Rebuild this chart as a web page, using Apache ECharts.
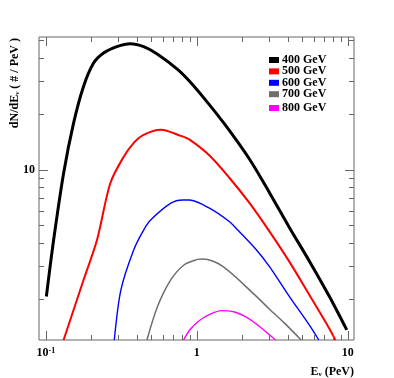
<!DOCTYPE html>
<html>
<head>
<meta charset="utf-8">
<script src="https://cdn.jsdelivr.net/npm/echarts@6/dist/echarts.min.js"></script>
<style>
  html, body { margin: 0; padding: 0; background: #fff; }
  #chart { width: 394px; height: 378px; }
</style>
</head>
<body>
<div id="chart"></div>
<script>
// [E (PeV), dN/dE]
const gev400 = [[0.1007, 2.06], [0.1125, 4.16], [0.131, 9.55], [0.1525, 17.8], [0.1775, 28.1], [0.207, 37.6], [0.241, 42.6], [0.295, 46.1], [0.362, 47.8], [0.444, 46.1], [0.549, 42.0], [0.745, 34.8], [0.895, 30], [1.18, 23], [1.56, 17.2], [2.23, 11.4], [3.03, 7.5], [4.11, 4.85], [5.57, 3.2], [7.56, 2.06], [9.85, 1.36]];
const gev500 = [[0.131, 1.2], [0.1775, 2.53], [0.218, 4.16], [0.267, 8.43], [0.327, 11.7], [0.381, 13.9], [0.444, 15.4], [0.578, 16.4], [0.784, 15.2], [0.895, 14.5], [1.213, 11.9], [1.647, 9.0], [2.23, 6.6], [2.98, 4.72], [4.11, 3.17], [5.57, 2.1], [7.56, 1.38], [8.27, 1.2]];
const gev600 = [[0.284, 1.2], [0.314, 2.24], [0.381, 3.67], [0.444, 4.71], [0.496, 5.35], [0.673, 6.58], [0.804, 6.85], [0.895, 6.85], [1.213, 6.18], [1.647, 5.22], [1.87, 4.71], [2.47, 3.7], [3.03, 2.99], [4.11, 2.06], [5.57, 1.445], [6.43, 1.2]];
const gev700 = [[0.467, 1.2], [0.549, 1.82], [0.673, 2.54], [0.826, 3.06], [1.01, 3.27], [1.096, 3.29], [1.486, 3.0], [2.47, 2.07], [3.03, 1.76], [3.81, 1.48], [4.91, 1.2]];
const gev800 = [[0.817, 1.2], [0.908, 1.375], [1.042, 1.53], [1.214, 1.65], [1.451, 1.73], [1.777, 1.7], [2.167, 1.58], [2.602, 1.42], [3.32, 1.2]];

const seriesNames = ["400 GeV", "500 GeV", "600 GeV", "700 GeV", "800 GeV"];
const xMajorTicks = [0.1, 1, 10];
const xMinorTicks = [0.2, 0.3, 0.4, 0.5, 0.6, 0.7, 0.8, 0.9, 2, 3, 4, 5, 6, 7, 8, 9];
const yMajorTicks = [10];
const yMinorTicks = [2, 3, 4, 5, 6, 7, 8, 9, 20, 30, 40, 50];

const X_MIN = 0.09, X_MAX = 11, Y_MIN = 1.2, Y_MAX = 52;
const FONT = "Liberation Serif";
const frameColor = "#666";

const lineDefs = [
  { data: gev400, color: "#000000", width: 3 },
  { data: gev500, color: "#ff0000", width: 2 },
  { data: gev600, color: "#0000ff", width: 1.4 },
  { data: gev700, color: "#6e6e6e", width: 1.5 },
  { data: gev800, color: "#ff00ff", width: 1.4 },
];

function powLabel(v) {
  const l = Math.log10(v);
  const p = Math.round(l);
  if (Math.abs(l - p) > 1e-6) return "";
  if (p === -1) return "{b|10}{s|-1}";
  if (p === 0) return "{b|1}";
  return "{b|" + Math.pow(10, p) + "}";
}

const labelRich = {
  b: { fontFamily: FONT, fontWeight: "bold", fontSize: 12, color: "#000" },
  s: { fontFamily: FONT, fontWeight: "bold", fontSize: 8, color: "#000", verticalAlign: "top" },
};

const xTickData = xMajorTicks.map(v => [v, Y_MIN, 9]).concat(xMinorTicks.map(v => [v, Y_MIN, 5]));
const yTickData = yMajorTicks.map(v => [X_MIN, v, 9]).concat(yMinorTicks.map(v => [X_MIN, v, 5]));

const chart = echarts.init(document.getElementById("chart"));

const series = lineDefs.map((d, i) => ({
  name: seriesNames[i],
  type: "line",
  data: d.data,
  smooth: 0.3,
  showSymbol: false,
  symbol: "none",
  clip: true,
  color: d.color,
  lineStyle: { color: d.color, width: d.width },
  z: 5 - i,
}));

series.push({
  type: "custom",
  name: "xticks",
  silent: true,
  data: xTickData,
  encode: { x: 0, y: 1 },
  renderItem: (params, api) => {
    const x = api.value(0), len = api.value(2);
    const b = api.coord([x, Y_MIN]);
    const t = api.coord([x, Y_MAX]);
    const st = { stroke: frameColor, lineWidth: 1 };
    const px = Math.round(b[0]) + 0.5;
    return {
      type: "group",
      children: [
        { type: "line", shape: { x1: px, y1: b[1], x2: px, y2: b[1] - len }, style: st },
        { type: "line", shape: { x1: px, y1: t[1], x2: px, y2: t[1] + len }, style: st },
      ],
    };
  },
  z: 10,
});

series.push({
  type: "custom",
  name: "yticks",
  silent: true,
  data: yTickData,
  encode: { x: 0, y: 1 },
  renderItem: (params, api) => {
    const y = api.value(1), len = api.value(2);
    const l = api.coord([X_MIN, y]);
    const r = api.coord([X_MAX, y]);
    const st = { stroke: frameColor, lineWidth: 1 };
    const py = Math.round(l[1]) + 0.5;
    return {
      type: "group",
      children: [
        { type: "line", shape: { x1: l[0], y1: py, x2: l[0] + len, y2: py }, style: st },
        { type: "line", shape: { x1: r[0], y1: py, x2: r[0] - len, y2: py }, style: st },
      ],
    };
  },
  z: 10,
});

const legendCommon = {
  orient: "vertical",
  left: 269,
  padding: 0,
  icon: "rect",
  itemWidth: 10,
  itemHeight: 6,
  itemGap: -0.6,
  selectedMode: false,
  itemStyle: { borderWidth: 0 },
  textStyle: { fontFamily: FONT, fontWeight: "bold", fontSize: 12, color: "#000", padding: [0, 0, 0, -2] },
};

const options = {
  animation: false,
  backgroundColor: "#fff",
  grid: {
    left: 39,
    top: 37,
    right: 40,
    bottom: 38,
    show: true,
    borderColor: frameColor,
    borderWidth: 1,
    containLabel: false,
  },
  legend: [
    Object.assign({}, legendCommon, { top: 54, data: seriesNames.slice(0, 4) }),
    Object.assign({}, legendCommon, { top: 102, data: seriesNames.slice(4) }),
  ],
  xAxis: {
    type: "log",
    logBase: 10,
    min: X_MIN,
    max: X_MAX,
    axisLine: { show: false },
    axisTick: { show: false },
    splitLine: { show: false },
    axisLabel: {
      margin: 7,
      showMinLabel: false,
      showMaxLabel: false,
      formatter: powLabel,
      rich: labelRich,
    },
  },
  yAxis: {
    type: "log",
    logBase: 10,
    min: Y_MIN,
    max: Y_MAX,
    axisLine: { show: false },
    axisTick: { show: false },
    splitLine: { show: false },
    axisLabel: {
      margin: 4,
      showMinLabel: false,
      showMaxLabel: false,
      formatter: powLabel,
      rich: labelRich,
    },
  },
  graphic: [
    {
      type: "text",
      x: 15,
      y: 38,
      rotation: Math.PI / 2,
      style: {
        text: "{b|dN/dE}{s|ν}{b| ( # / PeV )}",
        align: "right",
        verticalAlign: "middle",
        rich: {
          b: { fontFamily: FONT, fontWeight: "bold", fontSize: 12, fill: "#000" },
          s: { fontFamily: FONT, fontWeight: "bold", fontSize: 7, fill: "#000", verticalAlign: "bottom" },
        },
      },
    },
    {
      type: "text",
      x: 354,
      y: 372,
      style: {
        text: "{b|E}{s|ν}{b| (PeV)}",
        align: "right",
        verticalAlign: "middle",
        rich: {
          b: { fontFamily: FONT, fontWeight: "bold", fontSize: 12, fill: "#000" },
          s: { fontFamily: FONT, fontWeight: "bold", fontSize: 7, fill: "#000", verticalAlign: "bottom" },
        },
      },
    },
  ],
  series: series,
};

chart.setOption(options);
</script>
</body>
</html>
